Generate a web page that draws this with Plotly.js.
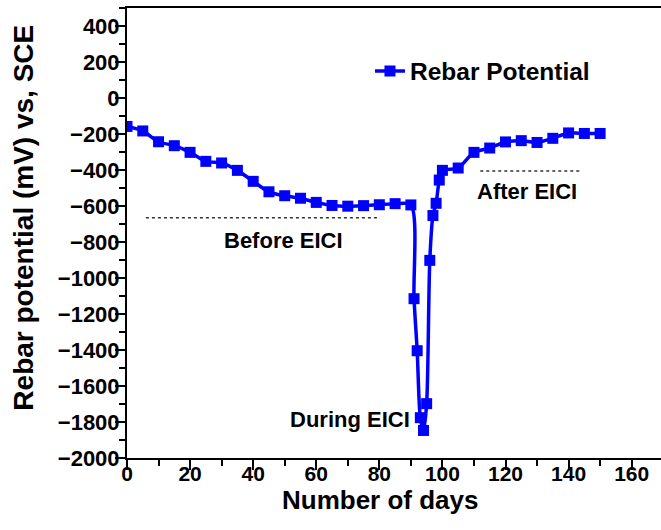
<!DOCTYPE html>
<html>
<head>
<meta charset="utf-8">
<script src="https://cdn.plot.ly/plotly-3.0.1.min.js"></script>
<style>html,body{margin:0;padding:0;background:#fff;}#chart{width:661px;height:530px;}</style>
</head>
<body>
<div id="chart"></div>
<script>
const days = [0,5,10,15,20,25,30,35,40,45,50,55,60,65,70,75,80,85,90,91,92,93,94,95,96,97,98,99,100,105,110,115,120,125,130,135,140,145,150];
const potential = [-158,-183,-243,-265,-302,-352,-361,-402,-463,-521,-543,-557,-580,-597,-601,-598,-593,-587,-594,-1115,-1404,-1776,-1847,-1698,-902,-653,-585,-456,-402,-389,-302,-278,-244,-237,-247,-224,-194,-197,-197];
const seriesName = 'Rebar Potential';
const xTitle = 'Number of days';
const yTitle = 'Rebar potential (mV) vs, SCE';
const phaseLabels = ['Before EICI', 'During EICI', 'After EICI'];
const phaseLabelX = [49.7, 70.6, 126.9];
const phaseLabelY = [-793, -1787, -521];
const refLineX0 = [6, 112];
const refLineX1 = [80, 144];
const refLineY = [-665, -405];

const FONT = 'Liberation Sans, Arial, sans-serif';

const trace = {
  x: days, y: potential, name: seriesName,
  type: 'scatter', mode: 'lines+markers',
  line: {color: '#0000FF', width: 3.5, shape: 'spline', smoothing: 0.8},
  marker: {symbol: 'square', size: 11, color: '#0000FF'}
};

const shapes = refLineX0.map((x0, i) => ({
  type: 'line', xref: 'x', yref: 'y', x0: x0, x1: refLineX1[i], y0: refLineY[i], y1: refLineY[i],
  line: {color: '#333333', width: 1.5, dash: 'dot'}
}));

const annotations = phaseLabels.map((t, i) => ({
  x: phaseLabelX[i], y: phaseLabelY[i], xref: 'x', yref: 'y', text: t, showarrow: false,
  font: {family: FONT, size: 22, color: '#000', weight: 'bold'}
}));
annotations.push({
  x: 0.474, y: -0.094, xref: 'paper', yref: 'paper', text: xTitle, showarrow: false,
  xanchor: 'center', yanchor: 'middle',
  font: {family: FONT, size: 26, color: '#000', weight: 'bold'}
});
annotations.push({
  x: -0.193, y: 0.534, xref: 'paper', yref: 'paper', text: yTitle, showarrow: false,
  textangle: -90, xanchor: 'center', yanchor: 'middle',
  font: {family: FONT, size: 28, color: '#000', weight: 'bold'}
});

const layout = {
  width: 661, height: 530,
  margin: {l: 127, r: 0, t: 8, b: 72},
  paper_bgcolor: '#fff', plot_bgcolor: '#fff',
  showlegend: true,
  legend: {x: 0.455, y: 0.91, xanchor: 'left', yanchor: 'top', bgcolor: 'rgba(0,0,0,0)',
    font: {family: FONT, size: 24.5, color: '#000', weight: 'bold'}},
  xaxis: {
    range: [0, 169.3], showgrid: false, zeroline: false,
    showline: true, linecolor: '#000', linewidth: 2, mirror: true,
    ticks: 'outside', tickmode: 'linear', tick0: 0, dtick: 20, ticklen: 10, tickwidth: 2, tickcolor: '#000',
    minor: {ticks: 'outside', dtick: 10, ticklen: 6, tickwidth: 2, tickcolor: '#000', showgrid: false},
    ticklabelstandoff: -14,
    tickfont: {family: FONT, size: 21, color: '#000', weight: 'bold'}
  },
  yaxis: {
    range: [-2000, 500], showgrid: false, zeroline: false,
    showline: true, linecolor: '#000', linewidth: 2,
    ticks: 'outside', tickmode: 'linear', tick0: 0, dtick: 200, ticklen: 10, tickwidth: 2, tickcolor: '#000',
    minor: {ticks: 'outside', dtick: 100, ticklen: 6, tickwidth: 2, tickcolor: '#000', showgrid: false},
    ticklabelstandoff: -9,
    tickfont: {family: FONT, size: 22, color: '#000', weight: 'bold'}
  },
  shapes: shapes,
  annotations: annotations
};

Plotly.newPlot('chart', [trace], layout, {staticPlot: true, displayModeBar: false});
</script>
</body>
</html>
